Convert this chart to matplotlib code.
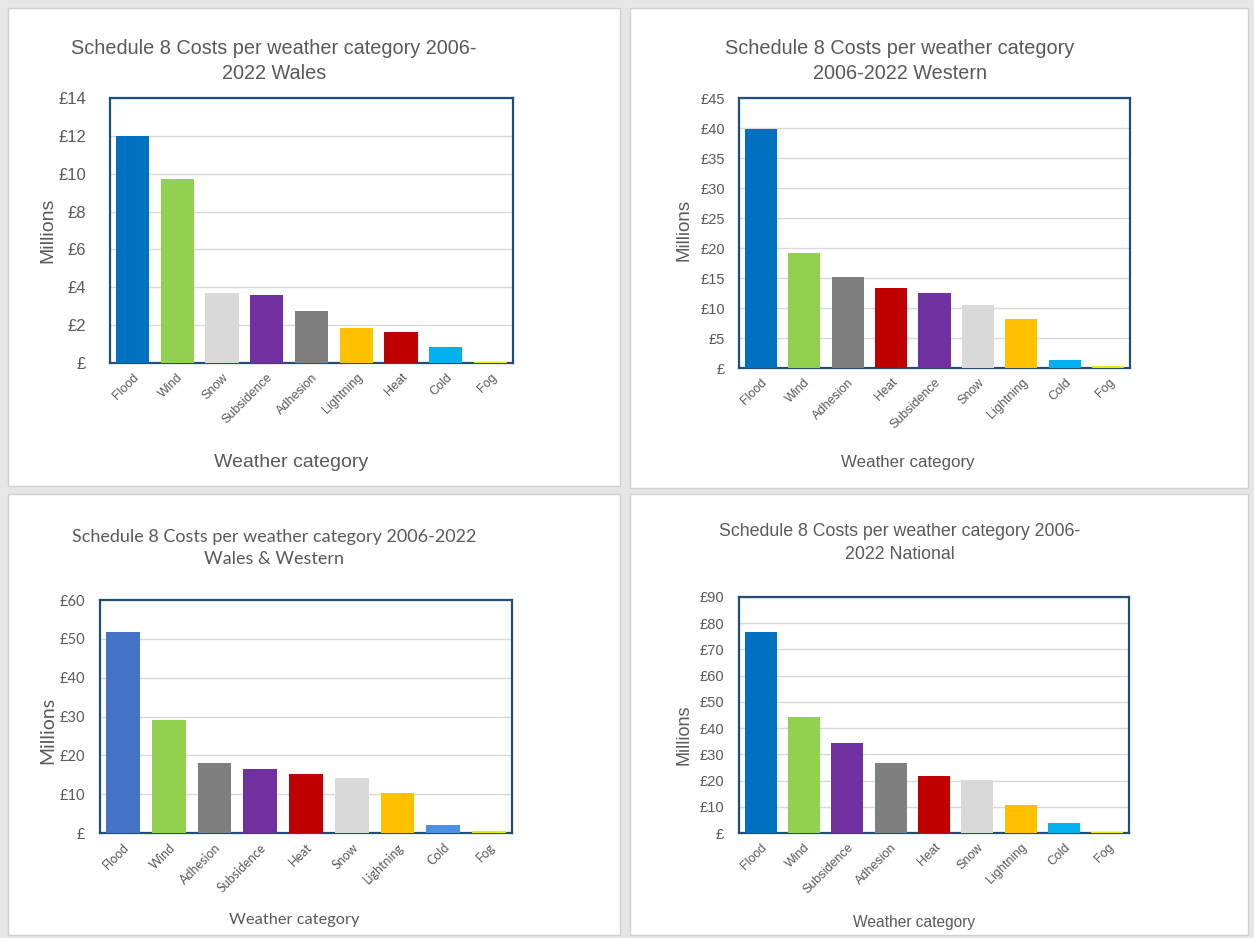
import matplotlib
matplotlib.use("Agg")
import matplotlib.pyplot as plt
from matplotlib.patches import Rectangle
from matplotlib.ticker import MultipleLocator, FuncFormatter

# Costs in £ millions, 2006-2022, sorted as they appear on each chart
wales_cats = ["Flood", "Wind", "Snow", "Subsidence", "Adhesion", "Lightning", "Heat", "Cold", "Fog"]
wales_vals = [12.0, 9.7, 3.7, 3.6, 2.75, 1.85, 1.65, 0.85, 0.05]

western_cats = ["Flood", "Wind", "Adhesion", "Heat", "Subsidence", "Snow", "Lightning", "Cold", "Fog"]
western_vals = [39.8, 19.1, 15.2, 13.4, 12.5, 10.5, 8.1, 1.4, 0.3]

ww_cats = ["Flood", "Wind", "Adhesion", "Subsidence", "Heat", "Snow", "Lightning", "Cold", "Fog"]
ww_vals = [51.8, 29.1, 18.0, 16.5, 15.2, 14.2, 10.3, 2.1, 0.5]

national_cats = ["Flood", "Wind", "Subsidence", "Adhesion", "Heat", "Snow", "Lightning", "Cold", "Fog"]
national_vals = [76.7, 44.3, 34.4, 26.7, 21.8, 20.2, 10.7, 3.8, 0.2]

colours = {
    "Flood": "#0070C0", "Wind": "#92D050", "Snow": "#D9D9D9",
    "Subsidence": "#7030A0", "Adhesion": "#7F7F7F", "Lightning": "#FFC000",
    "Heat": "#C00000", "Cold": "#00B0F0", "Fog": "#E8E800",
}

W, H = 1254, 938
fig = plt.figure(figsize=(W / 100, H / 100), dpi=100, facecolor="#e6e6e6")


def px(x0, y0, x1, y1):
    # pixel box (top-left origin) -> figure fraction rect
    return [x0 / W, 1 - y1 / H, (x1 - x0) / W, (y1 - y0) / H]


# white chart panels behind the axes
for box in [(8, 8, 620, 486), (630, 8, 1248, 488), (8, 494, 620, 935), (630, 494, 1248, 935)]:
    r = Rectangle((box[0] / W, 1 - box[3] / H), (box[2] - box[0]) / W, (box[3] - box[1]) / H,
                  transform=fig.transFigure, facecolor="white", edgecolor="#d0d0d0", lw=1,
                  zorder=-5)
    fig.patches.append(r)

grey = "#595959"


def pounds(v, pos):
    return "£" if v == 0 else f"£{v:.0f}"


def chart(rect, cats, vals, ymax, step, title, title_xy, tsize, ylab_xy, xlab_xy,
          lsizes, ypad, ysize, font, overrides=None):
    ax = fig.add_axes(px(*rect))
    ax.set_facecolor("none")
    cols = [colours[c] for c in cats]
    if overrides:
        cols = [overrides.get(c, col) for c, col in zip(cats, cols)]
    ax.bar(range(len(cats)), vals, width=0.74, color=cols, zorder=3)
    ax.set_xlim(-0.5, len(cats) - 0.5)
    ax.set_ylim(0, ymax)
    ax.yaxis.set_major_locator(MultipleLocator(step))
    ax.yaxis.set_major_formatter(FuncFormatter(pounds))
    ax.grid(axis="y", color="#d9d9d9", lw=1, zorder=0)
    ax.set_xticks(range(len(cats)))
    ax.set_xticklabels(cats, rotation=45, ha="right", rotation_mode="anchor",
                       fontsize=9, color=grey, family=font)
    for lab in ax.get_yticklabels():
        lab.set_family(font)
    ax.tick_params(axis="y", length=0, labelsize=ysize, labelcolor=grey, pad=ypad * 0.72)
    ax.tick_params(axis="x", length=0, pad=6)
    for s in ax.spines.values():
        s.set_color("#1F4E79")
        s.set_linewidth(1.6)
    tx, ty = title_xy
    fig.text(tx / W, 1 - ty / H, title, ha="center", va="center", fontsize=tsize,
             color=grey, family=font, linespacing=1.45)
    fig.text(ylab_xy[0] / W, 1 - ylab_xy[1] / H, "Millions", rotation=90, ha="center",
             va="center", fontsize=lsizes[0], color=grey, family=font)
    fig.text(xlab_xy[0] / W, 1 - xlab_xy[1] / H, "Weather category", ha="center",
             va="center", fontsize=lsizes[1], color=grey, family=font)
    return ax


chart((110, 98, 513, 363), wales_cats, wales_vals, 14, 2,
      "Schedule 8 Costs per weather category 2006-\n2022 Wales",
      (274, 61), 14.3, (48, 230), (291, 462), (14, 14), 24, 12, "Liberation Sans")

chart((739, 98, 1130, 368), western_cats, western_vals, 45, 5,
      "Schedule 8 Costs per weather category\n2006-2022 Western",
      (900, 61), 14.3, (684, 230), (908, 463), (13.5, 12.2), 14, 10.5, "Liberation Sans")

chart((100, 600, 512, 833), ww_cats, ww_vals, 60, 10,
      "Schedule 8 Costs per weather category 2006-2022\nWales & Western",
      (274, 548), 13, (48, 730), (294, 920), (14, 11.8), 15, 10.5, "Lato",
      overrides={"Flood": "#4472C4", "Cold": "#4A8FE0"})

chart((739, 597, 1129, 833), national_cats, national_vals, 90, 10,
      "Schedule 8 Costs per weather category 2006-\n2022 National",
      (900, 543), 12.8, (684, 735), (914, 922), (13, 11.2), 15, 10.5, "Liberation Sans")

fig.savefig("out.png", dpi=100, facecolor=fig.get_facecolor())
